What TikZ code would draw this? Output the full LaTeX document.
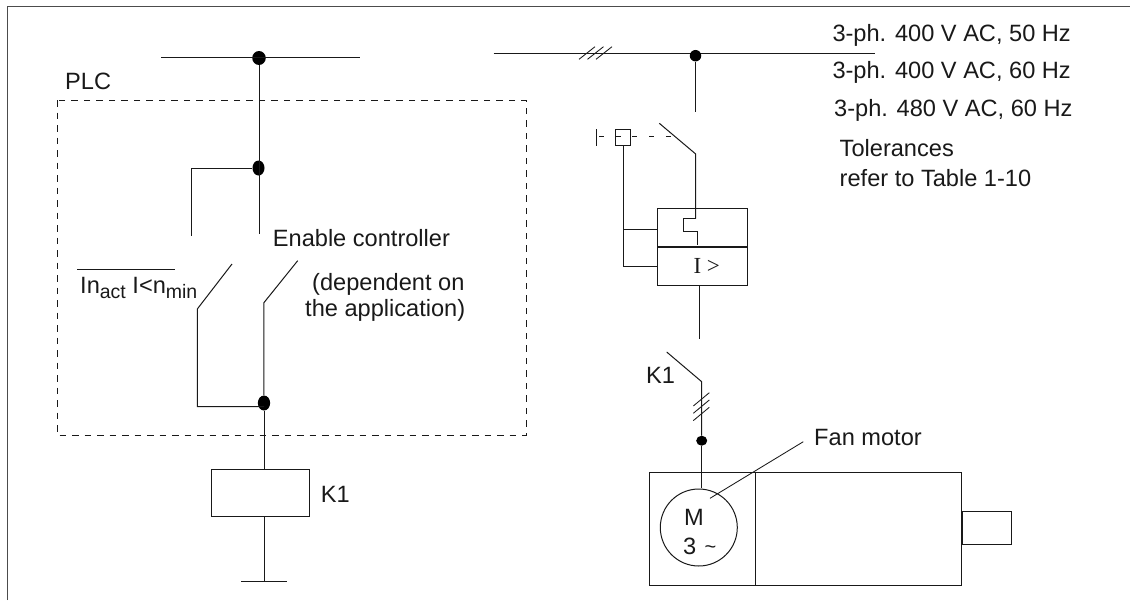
\documentclass[tikz,border=0pt]{standalone}
\usepackage{fontspec}
\setmainfont{Liberation Sans}
\newfontfamily\serifface{Liberation Serif}
\usetikzlibrary{shapes.geometric}
\tikzset{
  wire/.style={line width=1pt,black!90},
  thin wire/.style={line width=0.85pt,black!90},
  frame/.style={line width=1.3pt,black!70},
  plcbox/.style={line width=0.9pt,dash pattern=on 6.5pt off 6pt,black!90},
  dotnode/.style={ellipse,fill=black,inner sep=0pt},
  lbl/.style={inner sep=0pt,anchor=base west,font=\fontsize{23.6}{26}\selectfont,text=black!90},
  boxn/.style={draw,wire,inner sep=0pt},
}
\newcommand{\subs}[1]{\raisebox{-5pt}{\fontsize{19.5}{20}\selectfont #1}}
\begin{document}
\begin{tikzpicture}[x=1pt,y=-1pt]
\useasboundingbox (0,0) rectangle (1130,600);
\draw[frame] (7.3,600) -- (7.3,6.7) -- (1130,6.7);
% left bus
\coordinate (la) at (161,57.3); \coordinate (lb) at (360,57.3);
\node[dotnode,minimum width=13.5pt,minimum height=14pt] (d1) at (259,58) {};
\node[dotnode,minimum width=12pt,minimum height=15pt] (d2) at (258.5,168) {};
\node[dotnode,minimum width=12.3pt,minimum height=15pt] (d3) at (264,403) {};
\draw[wire] (la) -- (lb);
\coordinate (c1) at (259,234);
\draw[wire] (d1) -- (c1);
\coordinate (c2) at (191.8,236); \coordinate (c2t) at (191.8,168);
\draw[wire] (d2) -- (c2t) -- (c2);
\draw[plcbox] (57,100) rectangle (526,435);
\node[lbl] (plc) at (65,89.5) {PLC};
\node[lbl] (en) at (272.7,246) {Enable controller};
\node[lbl] (dep1) at (312,290) {(dependent on};
\node[lbl] (dep2) at (305,316.7) {the application)};
\node[lbl] (inact) at (80,293) {In\subs{act} I<n\subs{min}};
\coordinate (ol) at (77,269); \coordinate (or) at (175,269);
\draw[thin wire] (ol) -- (or);
% contacts
\coordinate (s1t) at (232,264); \coordinate (s1b) at (197.3,309);
\coordinate (s2t) at (297.7,260.7); \coordinate (s2b) at (263.9,302.7);
\coordinate (j1) at (197.3,406.7);
\draw[wire] (s1t) -- (s1b) -- (j1) -- (j1 -| d3);
\draw[wire] (s2t) -- (s2b) -- (d3);
% K1 coil
\node[boxn,minimum width=98.3pt,minimum height=47pt] (coil) at (260.2,492.5) {};
\node[lbl] (k1a) at (320.7,502.7) {K1};
\coordinate (g) at (264,581.7);
\coordinate (gl) at (241,581.7); \coordinate (gr) at (286.7,581.7);
\draw[wire] (d3) -- (d3 |- coil.north);
\draw[wire] (g |- coil.south) -- (g);
\draw[wire] (gl) -- (gr);
% right bus
\coordinate (ra) at (493.5,53.3); \coordinate (rb) at (874.7,53.3);
\draw[wire] (ra) -- (rb);
\foreach \i in {0,8.5,17} \draw[thin wire] (579+\i,59.3) -- (595+\i,46.7);
\node[dotnode,minimum width=11.5pt,minimum height=11.5pt] (d4) at (695.5,55.7) {};
\coordinate (t1) at (695.5,112);
\draw[wire] (d4) -- (t1);
\node[lbl] (v1) at (832.3,41.7) {3-ph. 400 V AC, 50 Hz};
\node[lbl] (v2) at (832.3,78.3) {3-ph. 400 V AC, 60 Hz};
\node[lbl] (v3) at (834,116.7) {3-ph. 480 V AC, 60 Hz};
\node[lbl] (tol1) at (839.5,156.7) {Tolerances};
\node[lbl] (tol2) at (839.5,186) {refer to Table 1-10};
% breaker
\coordinate (bt) at (659.3,123.3); \coordinate (bb) at (695.7,154);
\coordinate (bi) at (695.7,218.7);
\draw[wire] (bt) -- (bb) -- (bi);
\node[boxn,minimum width=15.7pt,minimum height=15.7pt] (sq) at (622.9,137.5) {};
\coordinate (h1) at (596,129); \coordinate (h2) at (596,145.7);
\draw[thin wire] (h1) -- (h2);
\coordinate (ds) at (599,136.7); \coordinate (de) at (672,136.7);
\draw[thin wire,dash pattern=on 5pt off 11.7pt] (ds) -- (de);
\node[boxn,minimum width=90pt,minimum height=77.4pt] (brk) at (702.7,247) {};
\draw[line width=1.9pt,black!90] (brk.west) -- (brk.east);
\draw[wire] (bi) -- (683.7,218.7) -- (683.7,231.3) -- (697.3,231.3) -- (697.3,245);
\node[inner sep=0pt,anchor=base,font=\fontsize{23}{26}\selectfont\serifface,text=black!90] (ilab) at (706.7,273.3) {I >};
\coordinate (e1) at (623.7,229); \coordinate (e2) at (623.7,266);
\draw[wire] (sq.south -| e2) -- (e2) -- (e2 -| brk.west);
\draw[wire] (e1) -- (e1 -| brk.west);
\coordinate (o2) at (699,339.3);
\draw[wire] (brk.south -| o2) -- (o2);
% contact K1
\coordinate (kt) at (666.7,352); \coordinate (kb) at (701.7,381.7);
\node[dotnode,minimum width=11pt,minimum height=10pt] (d5) at (701.7,440.7) {};
\draw[wire] (kt) -- (kb) -- (d5);
\foreach \i in {0,7.3,14.6} \draw[thin wire] (693.3,406+\i) -- (709.3,392.7+\i);
\node[lbl] (k1b) at (646,383.3) {K1};
% motor
\node[boxn,minimum width=105.7pt,minimum height=112.3pt] (mb1) at (702.15,528.85) {};
\node[boxn,minimum width=206.3pt,minimum height=112.3pt] (mb2) at (858.15,528.85) {};
\node[boxn,circle,minimum width=77pt] (m) at (698.8,527.5) {};
\coordinate (mt) at (701.7,488);
\draw[wire] (d5) -- (mt);
\node[boxn,minimum width=49pt,minimum height=33pt,anchor=west] (shaft) at (mb2.east |- 0,528.2) {};
\node[lbl] (fm) at (814,445.7) {Fan motor};
\node[lbl] (mm) at (684,525) {M};
\node[lbl] (m3) at (683,554) {3};
\node[lbl,font=\fontsize{20}{22}\selectfont] (tl) at (704.5,553) {\char`\~};
\coordinate (fa) at (803.3,441.7); \coordinate (fb) at (710,498.3);
\draw[thin wire] (fa) -- (fb);
\end{tikzpicture}
\end{document}
